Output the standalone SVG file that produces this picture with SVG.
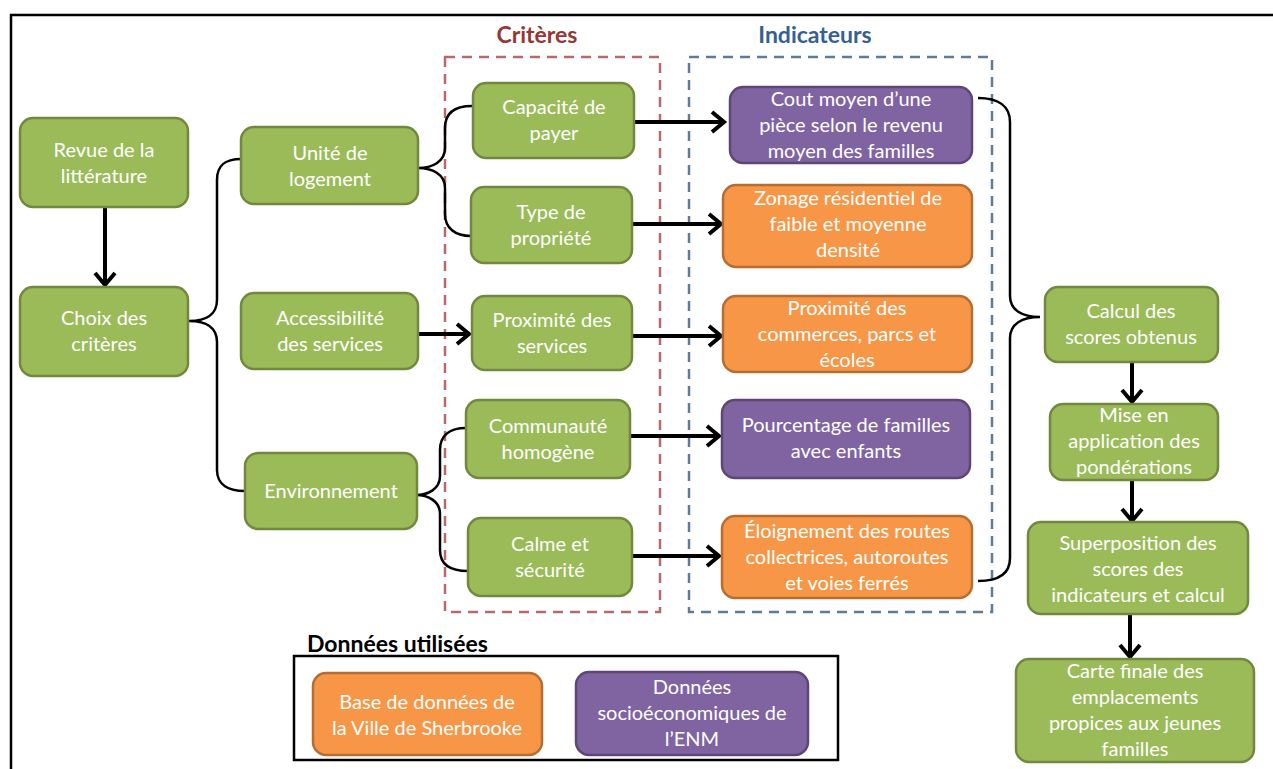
<svg xmlns="http://www.w3.org/2000/svg" width="1273" height="769" viewBox="0 0 1273 769">
<defs>
<style>
.g{fill:#9BBB59;stroke:#71893F;stroke-width:2.5}
.p{fill:#8064A2;stroke:#5C4776;stroke-width:2.5}
.o{fill:#F79646;stroke:#B66D31;stroke-width:2.5}
.t{font-family:Lato,"Liberation Sans",sans-serif;font-size:20px;fill:#FFFFFF;text-anchor:middle}
.ar{stroke:#000;stroke-width:4;fill:none;marker-end:url(#ah)}
.br{stroke:#000;stroke-width:2.5;fill:none}
.h{font-family:Lato,"Liberation Sans",sans-serif;font-size:23px;font-weight:bold;text-anchor:middle}
</style>
<marker id="ah" markerUnits="userSpaceOnUse" markerWidth="24" markerHeight="26" refX="18" refY="13" orient="auto">
<path d="M6,3 L18,13 L6,23" fill="none" stroke="#000" stroke-width="4"/>
</marker>
</defs>
<rect width="1273" height="769" fill="#FFFFFF"/>
<path d="M11,769 L11,15 L1273,15" fill="none" stroke="#000" stroke-width="2.5"/>
<g id="frames">
<rect x="445" y="57" width="215" height="555" fill="none" stroke="#B86A68" stroke-width="2.5" stroke-dasharray="10,7"/>
<rect x="689" y="57" width="303" height="555" fill="none" stroke="#5E7B9A" stroke-width="2.5" stroke-dasharray="10,7"/>
<text class="h" x="537" y="43" fill="#953735">Critères</text>
<text class="h" x="815" y="43" fill="#376092">Indicateurs</text>
</g>
<g id="connectors">
<line class="ar" x1="105" y1="208" x2="105" y2="285"/>
<path class="br" d="M241,159 C225,159 217,165 217,180 L217,300 C217,315 205,321 189,321 C205,321 217,327 217,342 L217,470 C217,485 229,491 245,491"/>
<path class="br" d="M472,106 C455,106 445,113 445,128 L445,148 C445,162 432,168 418,168 C432,168 445,174 445,188 L445,214 C445,228 455,236 471,236"/>
<path class="br" d="M466,428 C450,428 440,435 440,450 L440,476 C440,489 428,495 416,495 C428,495 440,501 440,514 L440,550 C440,564 450,571 468,571"/>
<path class="br" d="M978,98 C998,98 1010,106 1010,122 L1010,296 C1010,310 1022,317 1040,317 C1022,317 1010,324 1010,338 L1010,558 C1010,574 998,581 978,581"/>
<line class="ar" x1="418" y1="334" x2="469" y2="334"/>
<line class="ar" x1="634" y1="122" x2="724" y2="122"/>
<line class="ar" x1="632" y1="224" x2="721" y2="224"/>
<line class="ar" x1="632" y1="336" x2="721" y2="336"/>
<line class="ar" x1="630" y1="436" x2="719" y2="436"/>
<line class="ar" x1="632" y1="556" x2="719" y2="556"/>
<line class="ar" x1="1132" y1="362" x2="1132" y2="402"/>
<line class="ar" x1="1132" y1="480" x2="1132" y2="521"/>
<line class="ar" x1="1130" y1="614" x2="1130" y2="657"/>
</g>
<g id="n-revue"><rect class="g" x="20" y="118" width="168" height="89" rx="13"/>
<text class="t" x="104" y="157">Revue de la</text><text class="t" x="104" y="183">littérature</text></g>
<g id="n-choix"><rect class="g" x="20" y="287" width="168" height="89" rx="13"/>
<text class="t" x="104" y="325">Choix des</text><text class="t" x="104" y="351">critères</text></g>
<g id="n-unite"><rect class="g" x="241" y="127" width="177" height="77" rx="13"/>
<text class="t" x="330" y="160">Unité de</text><text class="t" x="330" y="186">logement</text></g>
<g id="n-access"><rect class="g" x="241" y="293" width="177" height="76" rx="13"/>
<text class="t" x="330" y="325">Accessibilité</text><text class="t" x="330" y="351">des services</text></g>
<g id="n-env"><rect class="g" x="245" y="453" width="172" height="76" rx="13"/>
<text class="t" x="331" y="498">Environnement</text></g>
<g id="n-capacite"><rect class="g" x="473" y="83" width="161" height="75" rx="13"/>
<text class="t" x="554" y="114">Capacité de</text><text class="t" x="554" y="140">payer</text></g>
<g id="n-type"><rect class="g" x="471" y="187" width="161" height="76" rx="13"/>
<text class="t" x="551" y="219">Type  de</text><text class="t" x="551" y="245">propriété</text></g>
<g id="n-proxserv"><rect class="g" x="472" y="296" width="160" height="74" rx="13"/>
<text class="t" x="552" y="327">Proximité des</text><text class="t" x="552" y="353">services</text></g>
<g id="n-commu"><rect class="g" x="466" y="400" width="164" height="78" rx="13"/>
<text class="t" x="548" y="433">Communauté</text><text class="t" x="548" y="459">homogène</text></g>
<g id="n-calme"><rect class="g" x="468" y="518" width="164" height="78" rx="13"/>
<text class="t" x="550" y="551">Calme et</text><text class="t" x="550" y="577">sécurité</text></g>
<g id="n-cout"><rect class="p" x="730" y="87" width="242" height="76" rx="13"/>
<text class="t" x="851" y="106">Cout moyen d’une</text><text class="t" x="851" y="132">pièce selon le revenu</text><text class="t" x="851" y="158">moyen  des familles</text></g>
<g id="n-zonage"><rect class="o" x="723" y="185" width="249" height="82" rx="13"/>
<text class="t" x="848" y="205">Zonage résidentiel de</text><text class="t" x="848" y="231">faible et moyenne</text><text class="t" x="848" y="257">densité</text></g>
<g id="n-proxcom"><rect class="o" x="723" y="296" width="249" height="76" rx="13"/>
<text class="t" x="847" y="315">Proximité des</text><text class="t" x="847" y="341">commerces,  parcs et</text><text class="t" x="847" y="367">écoles</text></g>
<g id="n-pourc"><rect class="p" x="722" y="400" width="248" height="78" rx="13"/>
<text class="t" x="846" y="432">Pourcentage de familles</text><text class="t" x="846" y="458">avec enfants</text></g>
<g id="n-eloign"><rect class="o" x="722" y="516" width="250" height="82" rx="13"/>
<text class="t" x="847" y="538">Éloignement des routes</text><text class="t" x="847" y="564">collectrices, autoroutes</text><text class="t" x="847" y="590">et voies ferrés</text></g>
<g id="n-calcul"><rect class="g" x="1045" y="287" width="173" height="75" rx="13"/>
<text class="t" x="1131" y="318">Calcul des</text><text class="t" x="1131" y="344">scores obtenus</text></g>
<g id="n-mise"><rect class="g" x="1050" y="404" width="168" height="76" rx="13"/>
<text class="t" x="1134" y="422">Mise en</text><text class="t" x="1134" y="448">application des</text><text class="t" x="1134" y="474">pondérations</text></g>
<g id="n-super"><rect class="g" x="1028" y="522" width="220" height="92" rx="13"/>
<text class="t" x="1138" y="550">Superposition des</text><text class="t" x="1138" y="576">scores des</text><text class="t" x="1138" y="602">indicateurs et calcul</text></g>
<g id="n-carte"><rect class="g" x="1016" y="659" width="238" height="103" rx="13"/>
<text class="t" x="1135" y="678">Carte finale des</text><text class="t" x="1135" y="704">emplacements</text><text class="t" x="1135" y="730">propices aux jeunes</text><text class="t" x="1135" y="756">familles</text></g>
<g id="legend">
<text x="307" y="652" font-family="Lato,'Liberation Sans',sans-serif" font-size="23" font-weight="bold" fill="#000">Données utilisées</text>
<rect x="294" y="656" width="544" height="104" fill="none" stroke="#000" stroke-width="2.5"/>
</g>
<g id="n-base"><rect class="o" x="313" y="673" width="229" height="82" rx="13"/>
<text class="t" x="427" y="709">Base de données  de</text><text class="t" x="427" y="735">la Ville de Sherbrooke</text></g>
<g id="n-socio"><rect class="p" x="576" y="672" width="232" height="83" rx="13"/>
<text class="t" x="692" y="694">Données</text><text class="t" x="692" y="720">socioéconomiques de</text><text class="t" x="692" y="746">l’ENM</text></g>
</svg>
